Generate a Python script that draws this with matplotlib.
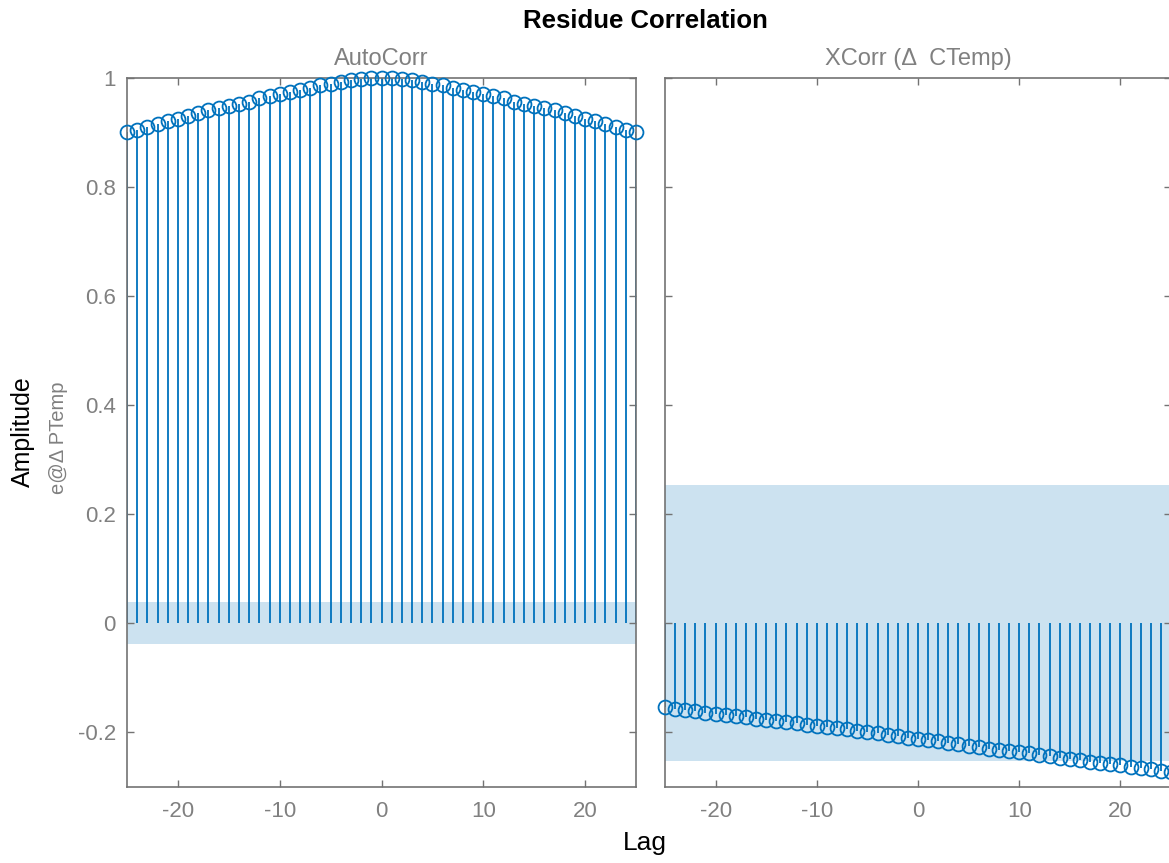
import numpy as np
import matplotlib
matplotlib.use('Agg')
import matplotlib.pyplot as plt

plt.rcParams['font.family'] = ['Liberation Sans', 'DejaVu Sans']
plt.rcParams['axes.unicode_minus'] = False

# lags (both panels)
lags = list(range(-25, 26))

# autocorrelation of e@ΔPTemp, lag -25 .. 0 (symmetric)
auto_half = [0.900, 0.905, 0.910, 0.915, 0.920, 0.925, 0.930, 0.935, 0.940,
             0.944, 0.948, 0.952, 0.956, 0.962, 0.966, 0.970, 0.974, 0.978,
             0.982, 0.986, 0.989, 0.992, 0.995, 0.997, 0.999, 1.000]
auto_vals = auto_half + auto_half[-2::-1]

# cross correlation with ΔCTemp, lag -25 .. 25
xcorr_vals = [-0.154, -0.157, -0.159, -0.161, -0.164, -0.166, -0.168, -0.170,
              -0.173, -0.175, -0.177, -0.179, -0.182, -0.184, -0.186, -0.188,
              -0.191, -0.193, -0.195, -0.198, -0.200, -0.202, -0.205, -0.207,
              -0.210, -0.212, -0.215, -0.217, -0.220, -0.222, -0.225, -0.227,
              -0.230, -0.232, -0.235, -0.237, -0.239, -0.242, -0.244, -0.247,
              -0.249, -0.251, -0.254, -0.256, -0.259, -0.261, -0.263, -0.266,
              -0.268, -0.271, -0.273]

# confidence bounds
auto_conf = 0.038
xcorr_conf = 0.253

blue = '#0072BD'
band = '#cce2f0'
grey_txt = '#808080'
grey_axis = '#737373'

W, H = 1169, 863
fig = plt.figure(figsize=(W / 100, H / 100), dpi=100)
bottom = (H - 786.7) / H
height = 709 / H
ax1 = fig.add_axes([127 / W, bottom, 509 / W, height])
ax2 = fig.add_axes([665 / W, bottom, 506 / W, height], sharey=ax1)


def draw_panel(ax, vals, conf, title):
    ax.fill_between([-25.2, 25], [-conf, -conf], [conf, conf], color=band,
                    zorder=1, linewidth=0)
    ml, sl, bl = ax.stem(lags, vals, basefmt=' ')
    plt.setp(ml, marker='o', markerfacecolor='none', markeredgecolor=blue,
             markersize=10, markeredgewidth=1.3, clip_on=False, zorder=3)
    plt.setp(sl, color=blue, linewidth=1.3, zorder=2)
    ax.set_xlim(-25, 25)
    ax.set_ylim(-0.3, 1.0)
    ax.set_xticks([-20, -10, 0, 10, 20])
    ax.set_yticks([-0.2, 0, 0.2, 0.4, 0.6, 0.8, 1])
    ax.tick_params(direction='in', length=5, width=1, colors=grey_axis,
                   labelcolor=grey_txt, labelsize=16, top=True, right=True)
    ax.tick_params(axis='x', pad=10)
    ax.tick_params(axis='y', pad=8)
    for s in ax.spines.values():
        s.set_color(grey_axis)
        s.set_linewidth(1.2)
    ax.set_title(title, color=grey_txt, fontsize=17, pad=9)


draw_panel(ax1, auto_vals, auto_conf, 'AutoCorr')
draw_panel(ax2, xcorr_vals, xcorr_conf, 'XCorr (Δ  CTemp)')
ax1.set_yticklabels(['-0.2', '0', '0.2', '0.4', '0.6', '0.8', '1'])
ax2.tick_params(labelleft=False)

fig.text(645 / W, 1 - 21 / H, 'Residue Correlation', ha='center', va='center',
         fontsize=18.5, fontweight='bold')
fig.text(645 / W, 1 - 843 / H, 'Lag', ha='center', va='center', fontsize=19)
fig.text(23 / W, 1 - 432 / H, 'Amplitude', ha='center', va='center',
         rotation=90, fontsize=18)
fig.text(59 / W, 1 - 438 / H, 'e@Δ PTemp', ha='center', va='center',
         rotation=90, fontsize=14.5, color=grey_txt)

fig.savefig('out.png', dpi=100)
